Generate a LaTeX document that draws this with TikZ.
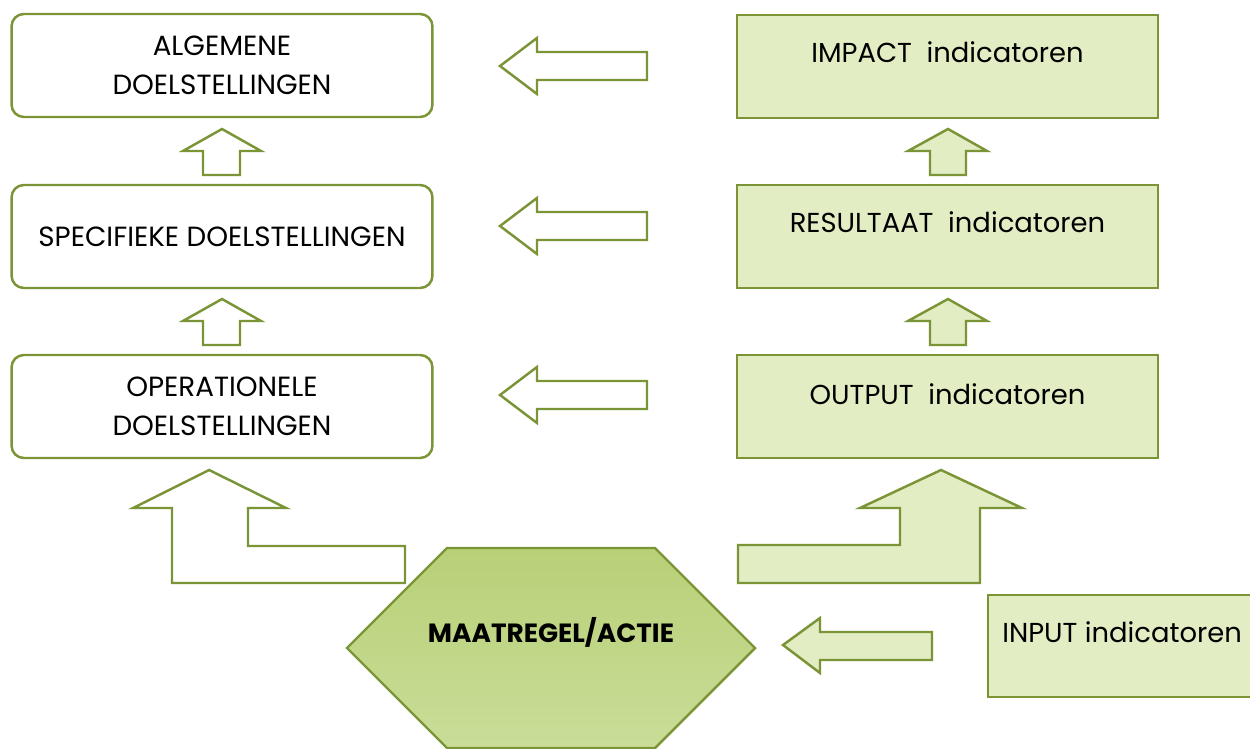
\documentclass[tikz,border=0pt]{standalone}
\usepackage{fontspec}
\setmainfont{Poppins}
\usepackage{tikz}
\usetikzlibrary{positioning,calc,shapes.geometric}

\definecolor{olijf}{HTML}{7A9436}
\definecolor{lichtgroen}{HTML}{E2EDC4}
\definecolor{hexboven}{HTML}{B8D077}
\definecolor{hexonder}{HTML}{C9DD98}

\begin{document}
\begin{tikzpicture}[x=0.02cm,y=-0.02cm,
	doelbox/.style={draw=olijf,line width=1.4pt,fill=white,rounded corners=7pt,
		minimum width=8.42cm,minimum height=2.06cm,align=center,
		font=\fontsize{15.8}{22}\selectfont},
	indbox/.style={draw=olijf,line width=1.4pt,fill=lichtgroen,
		minimum width=8.42cm,minimum height=2.06cm},
	indtekst/.style={font=\fontsize{15.6}{22}\selectfont},
	leegpijl/.style={draw=olijf,line width=1.4pt,fill=white,line join=miter},
	volpijl/.style={draw=olijf,line width=1.4pt,fill=lichtgroen,line join=miter}]
	\useasboundingbox (0,0) rectangle (1250,749);
	% doelstellingen (links)
	\node[doelbox] (alg) at (222,65.5) {ALGEMENE\\DOELSTELLINGEN};
	\node[doelbox] (spec) at (222,236.5) {SPECIFIEKE DOELSTELLINGEN};
	\node[doelbox] (oper) at (222,406.5) {OPERATIONELE\\DOELSTELLINGEN};
	% indicatoren (rechts)
	\node[indbox] (imp) at (947.5,66.5) {};
	\node[indtekst] (imptxt) at ($(imp.center)+(0,-14)$) {IMPACT\ \ indicatoren};
	\node[indbox] (res) at (947.5,236.5) {};
	\node[indtekst] (restxt) at ($(res.center)+(0,-14)$) {RESULTAAT\ \ indicatoren};
	\node[indbox] (out) at (947.5,406.5) {};
	\node[indtekst] (outtxt) at ($(out.center)+(0,-12)$) {OUTPUT\ \ indicatoren};
	\draw[olijf,line width=1.4pt,fill=lichtgroen] (988,595) rectangle (1262,697);
	\node[indtekst,anchor=west,inner sep=0pt] (inp) at (1002,632) {INPUT indicatoren};
	% pijlen naar links
	\foreach \y in {66,226,395}
		\draw[leegpijl] (500,\y) -- (537,\y-28) -- (537,\y-14) -- (647,\y-14)
			-- (647,\y+14) -- (537,\y+14) -- (537,\y+28) -- cycle;
	\draw[volpijl] (783,645) -- (820,618) -- (820,632) -- (932,632)
		-- (932,660) -- (820,660) -- (820,673) -- cycle;
	% pijlen omhoog
	\foreach \y in {129,299}{
		\draw[leegpijl] (222,\y) -- (261,\y+22) -- (240,\y+22) -- (240,\y+46)
			-- (203,\y+46) -- (203,\y+22) -- (183,\y+22) -- cycle;
		\draw[volpijl] (948,\y) -- (987,\y+22) -- (966,\y+22) -- (966,\y+46)
			-- (930,\y+46) -- (930,\y+22) -- (908,\y+22) -- cycle;
	}
	% geknikte pijlen
	\draw[leegpijl] (209,470) -- (286,508) -- (248,508) -- (248,546) -- (405,546)
		-- (405,583) -- (172,583) -- (172,508) -- (133,508) -- cycle;
	\draw[volpijl] (941,470) -- (1022,508) -- (980,508) -- (980,583) -- (738,583)
		-- (738,545) -- (900,545) -- (900,508) -- (860,508) -- cycle;
	% maatregel
	\draw[olijf,line width=1.4pt,top color=hexboven,bottom color=hexonder]
		(447,548) -- (655,548) -- (755,648) -- (655,748) -- (447,748) -- (347,648) -- cycle;
	\node[font=\fontsize{15}{18}\selectfont\bfseries] (act) at (551,632) {MAATREGEL/ACTIE};
\end{tikzpicture}
\end{document}
